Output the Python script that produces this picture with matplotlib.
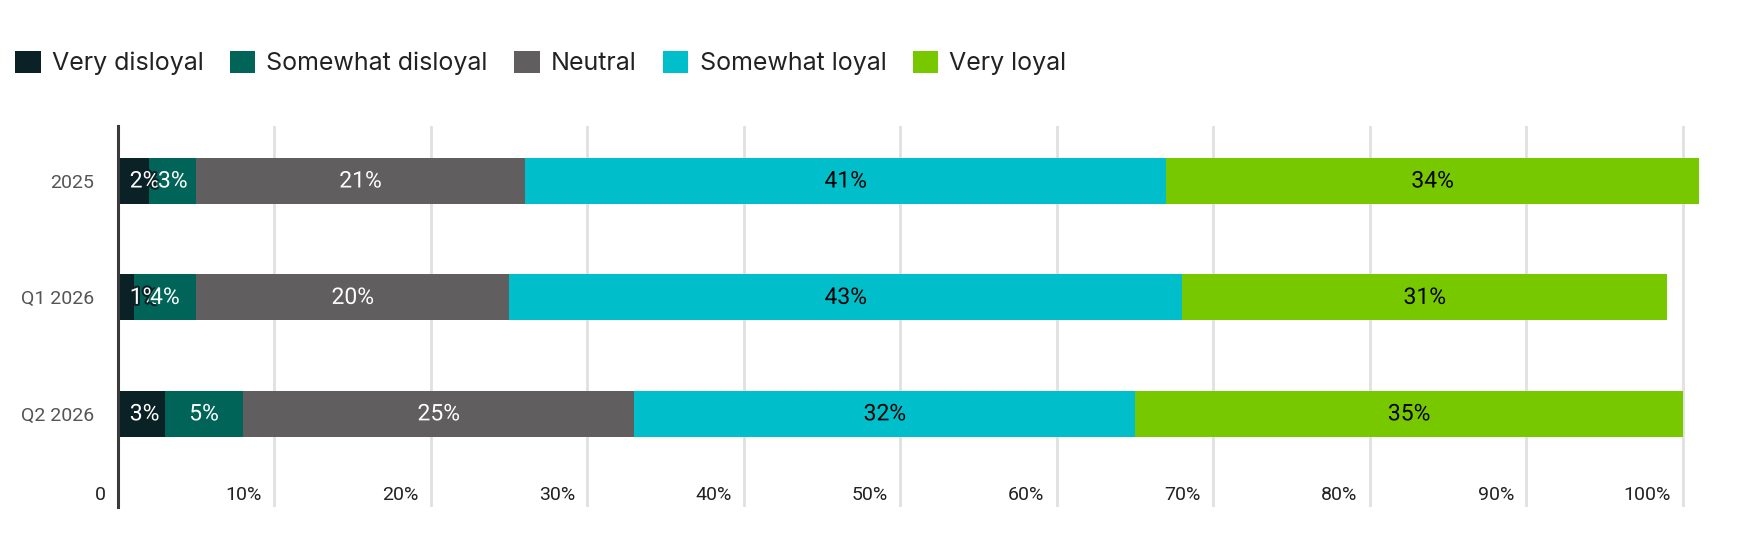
import matplotlib
matplotlib.use("Agg")
import matplotlib.pyplot as plt
import matplotlib.patheffects as pe
from matplotlib.patches import Patch

# Data (percent of respondents)
periods = ["2025", "Q1 2026", "Q2 2026"]
segments = ["Very disloyal", "Somewhat disloyal", "Neutral", "Somewhat loyal", "Very loyal"]
very_disloyal = [2, 1, 3]
somewhat_disloyal = [3, 4, 5]
neutral = [21, 20, 25]
somewhat_loyal = [41, 43, 32]
very_loyal = [34, 31, 35]
x_ticks = [0, 10, 20, 30, 40, 50, 60, 70, 80, 90, 100]
x_tick_labels = ["0", "10%", "20%", "30%", "40%", "50%", "60%", "70%", "80%", "90%", "100%"]

colors = ["#0a2226", "#006458", "#605e5f", "#00bfcb", "#78c800"]
text_colors = ["white", "white", "white", "black", "black"]

fig = plt.figure(figsize=(17.47, 5.47), dpi=100)
ax = fig.add_axes([0.0675, 0.0731, 0.9227, 0.6965])

series = [very_disloyal, somewhat_disloyal, neutral, somewhat_loyal, very_loyal]
ypos = list(range(len(periods)))
lefts = [0] * len(periods)
for name, vals, col, tcol in zip(segments, series, colors, text_colors):
    ax.barh(ypos, vals, left=lefts, height=0.395, color=col, label=name, zorder=3)
    for y, v, l in zip(ypos, vals, lefts):
        xc = max(l + v / 2, 1.7)
        ax.text(xc, y, f"{v}%", ha="center", va="center", color=tcol,
                fontsize=16.5, family="Roboto", zorder=5,
                path_effects=[pe.withStroke(linewidth=3, foreground=col)])
    lefts = [a + b for a, b in zip(lefts, vals)]

ax.set_xlim(0, 103)
ax.set_ylim(2.8, -0.472)

# grid
for t in x_ticks[1:]:
    ax.axvline(t, color="#e0e0e0", lw=2, zorder=1)

ax.set_xticks([])
for t, lab in zip(x_ticks, x_tick_labels):
    ax.annotate(lab, xy=(t, 0.031), xycoords=("data", "axes fraction"),
                xytext=(-9, 0), textcoords="offset points",
                ha="right", va="center", fontsize=14, family="Roboto", color="#222222")

ax.set_yticks(ypos)
ax.set_yticklabels(periods, fontsize=14, family="Roboto", color="#555555")
ax.tick_params(axis="y", length=0, pad=17)

for s in ["top", "right", "bottom"]:
    ax.spines[s].set_visible(False)
ax.spines["left"].set_color("#3a3a3a")
ax.spines["left"].set_linewidth(2.2)
ax.spines["left"].set_zorder(6)

handles = [Patch(facecolor=c, edgecolor="none") for c in colors]
fig.legend(handles, segments, loc="center left", bbox_to_anchor=(15 / 1747, 1 - 63 / 547),
           ncol=5, frameon=False, borderpad=0, borderaxespad=0,
           prop={"family": "Inter", "size": 18.0},
           handlelength=1.02, handleheight=1.02, handletextpad=0.45, columnspacing=1.05,
           labelcolor="#222222")

fig.savefig("out.png", dpi=100)
